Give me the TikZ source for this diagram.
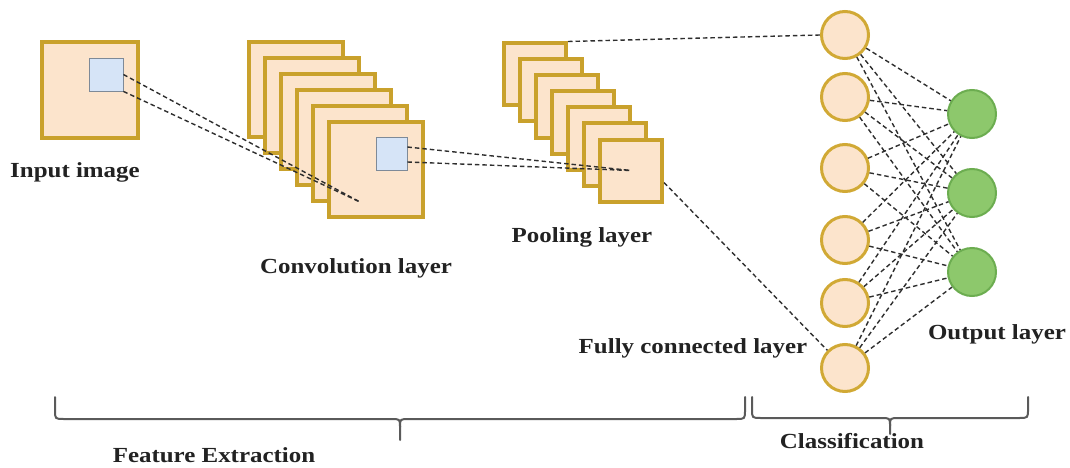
\documentclass[tikz,border=0pt]{standalone}
\usepackage{fontspec}
\setmainfont{Liberation Serif}[FakeStretch=1.16]
\usetikzlibrary{calc}
\definecolor{peach}{HTML}{FCE4CC}
\definecolor{gold}{HTML}{C9A12C}
\definecolor{ringgold}{HTML}{D1A935}
\definecolor{kernel}{HTML}{D6E4F7}
\definecolor{kernelline}{HTML}{7E8A98}
\definecolor{leaf}{HTML}{8DC86C}
\definecolor{leafline}{HTML}{6CAD50}
\definecolor{wire}{HTML}{2E2E2E}
\definecolor{bracegray}{HTML}{5A5A5A}
\definecolor{ink}{HTML}{222222}
\begin{document}
\begin{tikzpicture}[x=1pt,y=-1pt,
  fmap/.style={draw=gold,fill=peach,line width=4pt,minimum size=#1,inner sep=0pt},
  kern/.style={draw=kernelline,fill=kernel,line width=0.8pt,inner sep=0pt},
  fcnode/.style={circle,draw=ringgold,fill=peach,line width=3pt,minimum size=47pt,inner sep=0pt},
  outnode/.style={circle,draw=leafline,fill=leaf,line width=2pt,minimum size=48pt,inner sep=0pt},
  wiredash/.style={draw=wire,line width=1.4pt,dash pattern=on 4.5pt off 3pt},
  lbl/.style={font=\fontsize{21.5}{25}\selectfont\bfseries,text=ink,inner sep=0pt,anchor=base},
  bracepath/.style={draw=bracegray,line width=2pt,line cap=round,line join=round}]
\useasboundingbox (0,0) rectangle (1070,468);

% input image with its kernel window
\node[fmap=96pt] (inp) at (90,90) {};
\node[kern,minimum width=34pt,minimum height=33pt] (inpk) at (106,74.5) {};

% convolution feature maps
\foreach \i in {1,...,6}{
  \node[fmap=94pt] (conv\i) at ({296+16*(\i-1)},{89.5+16*(\i-1)}) {};
}
\node[kern,minimum width=31pt,minimum height=33pt] (convk) at (391.5,153.5) {};

% pooled feature maps
\foreach \i in {1,...,7}{
  \node[fmap=62pt] (pool\i) at ({535+16*(\i-1)},{74.5+16*(\i-1)}) {};
}

% fully connected layer
\foreach \i/\yy in {1/35,2/97,3/168,4/240,5/303,6/368}{
  \node[fcnode] (fc\i) at (845,\yy) {};
}
% output layer
\foreach \j/\yy in {1/114,2/193,3/272}{
  \node[outnode] (out\j) at (972,\yy) {};
}

% receptive field projections
\coordinate (convpt) at (360,202);
\coordinate (poolpt) at (pool7.center);
\draw[wiredash] (inpk.east) -- (convpt);
\draw[wiredash] (inpk.south east) -- (convpt);
\draw[wiredash] ([yshift=6.5pt]convk.east) -- (poolpt);
\draw[wiredash] ([yshift=-8.5pt]convk.east) -- (poolpt);

% flattening into the dense layer
\draw[wiredash] (pool1.north east) -- (fc1.west);
\draw[wiredash] ([yshift=-12pt]pool7.east) -- (fc6.north west);

% dense connections
\foreach \i in {1,...,6}{
  \foreach \j in {1,2,3}{
    \draw[wiredash] (fc\i) -- (out\j);
  }
}

% labels
\node[lbl] (tinp) at (75,177) {Input image};
\node[lbl] (tconv) at (356,273) {Convolution layer};
\node[lbl] (tpool) at (582,242) {Pooling layer};
\node[lbl] (tfc) at (693,353) {Fully connected layer};
\node[lbl] (tout) at (997,339) {Output layer};

% braces
\foreach \xa/\xb/\yt/\yl/\yp in {55/745/397/419/440, 752/1028/397/418/434}{
  \pgfmathsetmacro{\xc}{(\xa+\xb)/2}
  \draw[bracepath] (\xa,\yt) -- (\xa,\yl-9) .. controls (\xa,\yl) .. (\xa+9,\yl)
    -- (\xc-9,\yl) .. controls (\xc,\yl) .. (\xc,\yl+8) -- (\xc,\yp);
  \draw[bracepath] (\xc,\yl+8) .. controls (\xc,\yl) .. (\xc+9,\yl)
    -- (\xb-9,\yl) .. controls (\xb,\yl) .. (\xb,\yl-9) -- (\xb,\yt);
}
\node[lbl] (tfeat) at (214,462) {Feature Extraction};
\node[lbl] (tcls) at (852,448) {Classification};
\end{tikzpicture}
\end{document}
